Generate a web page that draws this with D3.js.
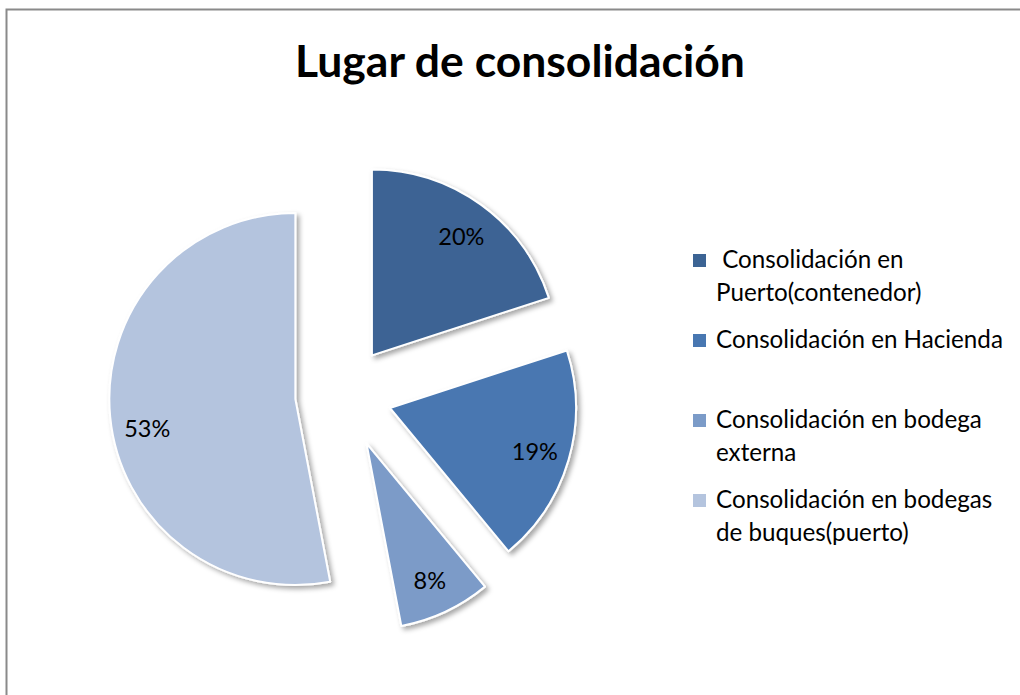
<html>
<head>
<meta charset="utf-8">
<title>Lugar de consolidación</title>
<script src="https://d3js.org/d3.v7.min.js"></script>
<style>
  body { margin: 0; background: #fff; }
  text { font-family: Lato, "Open Sans", sans-serif; fill: #000; }
</style>
</head>
<body>
<script>
// data
const categories = [
  " Consolidación en\nPuerto(contenedor)",
  "Consolidación en Hacienda",
  "Consolidación en bodega\nexterna",
  "Consolidación en bodegas\nde buques(puerto)"
];
const values = [20, 19, 8, 53];
const colors = ["#3c6494", "#4877b1", "#7b9bc8", "#b4c4de"];
const title = "Lugar de consolidación";

const W = 1020, H = 695;
const cx = 343.5, cy = 394.5, r = 186;
// how far each slice is pulled out (share of radius)
const explode = [0.26, 0.26, 0.29, 0.26];
// excel drops the big slice's label a bit lower
const labelNudge = [[2, 2], [2, 2], [0, 3], [0, 16]];

const svg = d3.select("body").append("svg").attr("width", W).attr("height", H);

const defs = svg.append("defs");
const f = defs.append("filter").attr("id", "shadow")
  .attr("x", "-20%").attr("y", "-20%").attr("width", "140%").attr("height", "140%");
f.append("feDropShadow").attr("dx", 3).attr("dy", 3).attr("stdDeviation", 2.5)
  .attr("flood-color", "#000").attr("flood-opacity", 0.35);

// frame (only left and top visible)
svg.append("path")
  .attr("d", `M6.5,${H} V9.5 H${W}`)
  .attr("fill", "none").attr("stroke", "#8a8a8a").attr("stroke-width", 2);

// title
const t = svg.append("text")
  .attr("x", 520).attr("y", 77)
  .attr("text-anchor", "middle")
  .attr("font-weight", "bold")
  .attr("font-size", 40)
  .text(title);
{
  const w = t.node().getComputedTextLength();
  t.attr("font-size", 40 * 450 / w);
}

const pie = d3.pie().sort(null).value(d => d);
const arcs = pie(values);
const arc = d3.arc().innerRadius(0).outerRadius(r);
const labelArc = d3.arc().innerRadius(r * 0.8).outerRadius(r * 0.8);

const g = svg.append("g").attr("transform", `translate(${cx},${cy})`);

const slice = g.selectAll("g.slice").data(arcs).join("g")
  .attr("class", "slice")
  .attr("transform", (d, i) => {
    const m = (d.startAngle + d.endAngle) / 2;
    const k = explode[i] * r;
    return `translate(${Math.sin(m) * k},${-Math.cos(m) * k})`;
  });

slice.append("path")
  .attr("d", arc)
  .attr("fill", (d, i) => colors[i])
  .attr("stroke", "#fff")
  .attr("stroke-width", 2)
  .attr("stroke-linejoin", "round")
  .attr("filter", "url(#shadow)");

slice.append("text")
  .attr("transform", (d, i) => {
    const [x, y] = labelArc.centroid(d);
    return `translate(${x + labelNudge[i][0]},${y + labelNudge[i][1]})`;
  })
  .attr("text-anchor", "middle")
  .attr("dy", "0.35em")
  .attr("font-size", 23.5)
  .text(d => d.data + "%");

// legend
const legendFirstY = [268, 348, 428, 508];
const lineH = 33;
const leg = svg.append("g");
const items = leg.selectAll("g").data(categories).join("g")
  .attr("transform", (d, i) => `translate(0,${legendFirstY[i]})`);
items.append("rect")
  .attr("x", 693).attr("y", -14).attr("width", 13).attr("height", 13)
  .attr("fill", (d, i) => colors[i]);
const lt = items.append("text")
  .attr("x", 716)
  .attr("font-size", 20)
  .style("white-space", "pre");
lt.selectAll("tspan").data(d => d.split("\n")).join("tspan")
  .attr("x", 716)
  .attr("dy", (d, i) => i === 0 ? 0 : lineH)
  .text(d => d);
{
  const ref = lt.filter((d, i) => i === 1).node();
  const w = ref.getComputedTextLength();
  lt.attr("font-size", 20 * 287 / w);
}
</script>
</body>
</html>
